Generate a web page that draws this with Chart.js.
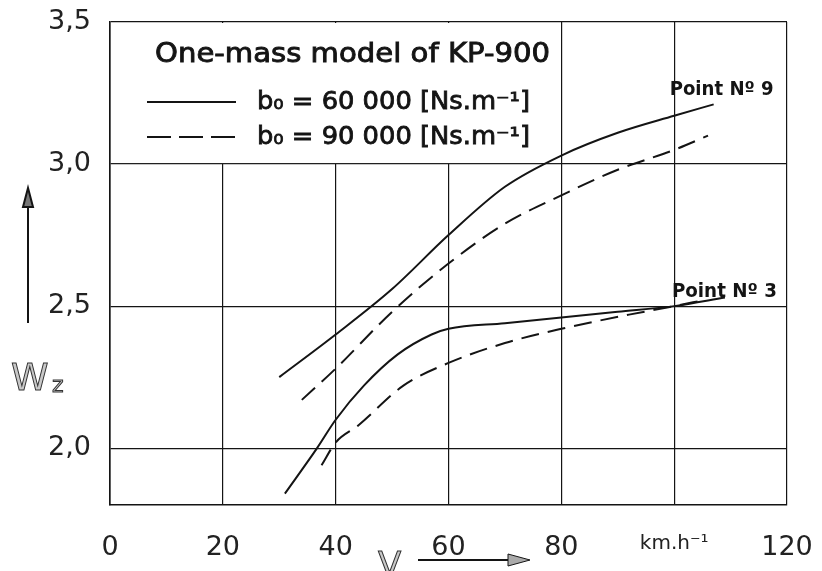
<!DOCTYPE html>
<html>
<head>
<meta charset="utf-8">
<script src="https://cdn.jsdelivr.net/npm/chart.js@4.4.0/dist/chart.umd.min.js"></script>
<style>
html, body { margin: 0; padding: 0; background: #fff; }
canvas { display: block; }
</style>
</head>
<body>
<canvas id="g_wz" width="822" height="571"></canvas>
<script>
// speed V [km/h] and Wz
const vPoint9Solid = [30, 40, 50, 60, 70, 80, 90, 100, 107];
const wPoint9Solid = [2.25, 2.40, 2.56, 2.75, 2.92, 3.03, 3.11, 3.17, 3.21];
const vPoint9Dash = [34, 40, 50, 60, 70, 80, 90, 100, 106];
const wPoint9Dash = [2.17, 2.28, 2.48, 2.65, 2.79, 2.89, 2.98, 3.05, 3.10];
const vPoint3Solid = [31, 36.7, 40, 45, 51, 57, 60, 70, 80, 90, 100, 109];
const wPoint3Solid = [1.84, 2.00, 2.10, 2.22, 2.33, 2.40, 2.42, 2.44, 2.46, 2.48, 2.50, 2.53];
const vPoint3Dash = [37.5, 40, 44, 52, 60, 70, 80, 92, 100, 105];
const wPoint3Dash = [1.94, 2.02, 2.08, 2.22, 2.30, 2.37, 2.42, 2.47, 2.50, 2.52];

// axes
const xTicks = [0, 20, 40, 60, 80, 100, 120];
const yTicks = [2.0, 2.5, 3.0, 3.5];
const xUnitLabel = 'km.h\u207B\u00B9';

// texts
const legendTitle = 'One-mass model of KP-900';
const legendLabels = ['b\u2080 = 60 000 [Ns.m\u207B\u00B9]', 'b\u2080 = 90 000 [Ns.m\u207B\u00B9]'];
const pointLabels = ['Point N\u00BA 9', 'Point N\u00BA 3'];

const ink = '#141414';
const fontName = '"DejaVu Sans", "Liberation Sans", sans-serif';

function toPoints(xs, ys) {
    let pts = [];
    for (let i = 0; i < xs.length; i++) {
        pts.push({ x: xs[i], y: ys[i] });
    }
    return pts;
}

function curve(label, xs, ys, dashed) {
    return {
        label: label,
        data: toPoints(xs, ys),
        borderColor: ink,
        borderWidth: 2,
        borderDash: dashed ? [18, 9] : [],
        pointRadius: 0,
        fill: false,
        tension: 0.4,
        cubicInterpolationMode: 'monotone'
    };
}

// text squeezed or stretched to a given width, with a thin outline for a medium weight
function fitText(ctx, text, x, y, width, outline) {
    const w = ctx.measureText(text).width;
    ctx.save();
    ctx.translate(x, y);
    ctx.scale(width / w, 1);
    ctx.fillText(text, 0, 0);
    if (outline) {
        ctx.lineWidth = outline;
        ctx.strokeStyle = ctx.fillStyle;
        ctx.setLineDash([]);
        ctx.strokeText(text, 0, 0);
    }
    ctx.restore();
}

// legend box, curve labels, axis names and arrows
const decor = {
    id: 'decor',
    beforeDatasetsDraw(chart) {
        const ctx = chart.ctx;
        const sx = chart.scales.x;
        const sy = chart.scales.y;
        const left = sx.getPixelForValue(0);
        const right = sx.getPixelForValue(80);
        const top = sy.getPixelForValue(3.5);
        const bottom = sy.getPixelForValue(3.0);
        ctx.save();
        ctx.fillStyle = '#fff';
        ctx.fillRect(left + 1, top + 1, right - left - 2, bottom - top - 2);
        ctx.fillStyle = ink;
        ctx.textBaseline = 'middle';
        ctx.font = '27px ' + fontName;
        fitText(ctx, legendTitle, left + 45, top + 33, 395, 0.9);
        ctx.font = '24px ' + fontName;
        ctx.strokeStyle = ink;
        for (let i = 0; i < legendLabels.length; i++) {
            const ly = top + 80 + i * 35;
            ctx.lineWidth = 2;
            ctx.setLineDash(i === 0 ? [] : [24, 8]);
            ctx.beginPath();
            ctx.moveTo(left + 37, ly);
            ctx.lineTo(left + 126, ly);
            ctx.stroke();
            fitText(ctx, legendLabels[i], left + 147, ly + 1, 273, 0.8);
        }
        ctx.restore();
    },
    afterDraw(chart) {
        const ctx = chart.ctx;
        const sx = chart.scales.x;
        const sy = chart.scales.y;
        ctx.save();
        ctx.fillStyle = ink;
        ctx.textBaseline = 'middle';
        ctx.font = 'bold 19px ' + fontName;
        fitText(ctx, pointLabels[0], sx.getPixelForValue(99.2), sy.getPixelForValue(3.26), 104);
        fitText(ctx, pointLabels[1], sx.getPixelForValue(99.6), sy.getPixelForValue(2.55), 105);

        // W_z, outlined letters
        ctx.textBaseline = 'alphabetic';
        ctx.fillStyle = '#c8c8c8';
        ctx.strokeStyle = '#333';
        ctx.lineWidth = 1;
        ctx.font = '38px ' + fontName;
        ctx.fillText('W', 11, 390);
        ctx.strokeText('W', 11, 390);
        ctx.font = '22px ' + fontName;
        ctx.fillText('z', 52, 392);
        ctx.strokeText('z', 52, 392);
        ctx.font = '34px ' + fontName;
        ctx.fillText('V', 378, 576);
        ctx.strokeText('V', 378, 576);

        // arrows
        ctx.strokeStyle = ink;
        ctx.lineWidth = 2;
        ctx.beginPath();
        ctx.moveTo(28, 323);
        ctx.lineTo(28, 200);
        ctx.stroke();
        ctx.fillStyle = '#777';
        ctx.beginPath();
        ctx.moveTo(28, 188);
        ctx.lineTo(23, 207);
        ctx.lineTo(33, 207);
        ctx.closePath();
        ctx.fill();
        ctx.stroke();

        ctx.beginPath();
        ctx.moveTo(418, 560);
        ctx.lineTo(512, 560);
        ctx.stroke();
        ctx.fillStyle = '#aaa';
        ctx.beginPath();
        ctx.moveTo(530, 560);
        ctx.lineTo(508, 554);
        ctx.lineTo(508, 566);
        ctx.closePath();
        ctx.fill();
        ctx.lineWidth = 1;
        ctx.stroke();
        ctx.restore();
    }
};

function drawChart() {
    let context = document.getElementById('g_wz').getContext('2d');
    let data = {
        datasets: [
            curve('Point 9, b0 = 60 000', vPoint9Solid, wPoint9Solid, false),
            curve('Point 9, b0 = 90 000', vPoint9Dash, wPoint9Dash, true),
            curve('Point 3, b0 = 60 000', vPoint3Solid, wPoint3Solid, false),
            curve('Point 3, b0 = 90 000', vPoint3Dash, wPoint3Dash, true)
        ]
    };
    let options = {
        responsive: false,
        animation: false,
        devicePixelRatio: 1,
        layout: { padding: { top: 22, right: 35, left: 0, bottom: 0 } },
        plugins: {
            legend: { display: false },
            tooltip: { enabled: false }
        },
        scales: {
            x: {
                type: 'linear',
                min: 0,
                max: 120,
                afterBuildTicks: (scale) => { scale.ticks = xTicks.map(v => ({ value: v })); },
                afterFit: (scale) => {
                    scale.height = 66;
                    scale.paddingLeft = 0;
                    scale.paddingRight = 0;
                },
                grid: { color: ink, lineWidth: 1.2, drawTicks: false },
                border: { color: ink, width: 1.6 },
                ticks: {
                    padding: 27,
                    color: '#222',
                    maxRotation: 0,
                    font: (c) => c.tick && c.tick.value === 100 ?
                        { family: fontName, size: 20 } : { family: fontName, size: 27 },
                    callback: (v) => v === 100 ? xUnitLabel : String(v)
                }
            },
            y: {
                type: 'linear',
                min: 1.8,
                max: 3.5,
                afterBuildTicks: (scale) => { scale.ticks = yTicks.map(v => ({ value: v })); },
                afterFit: (scale) => {
                    scale.width = 110;
                    scale.paddingTop = 0;
                    scale.paddingBottom = 0;
                },
                grid: { color: ink, lineWidth: 1.2, drawTicks: false },
                border: { color: ink, width: 1.6 },
                ticks: {
                    padding: 19,
                    color: '#222',
                    font: { family: fontName, size: 27 },
                    callback: (v) => v.toFixed(1).replace('.', ',')
                }
            }
        }
    };
    let config = {
        type: 'line',
        data: data,
        options: options,
        plugins: [decor]
    };
    let gWz = new Chart(context, config);
}

window.addEventListener('load', () => {
    drawChart();
});
</script>
</body>
</html>
